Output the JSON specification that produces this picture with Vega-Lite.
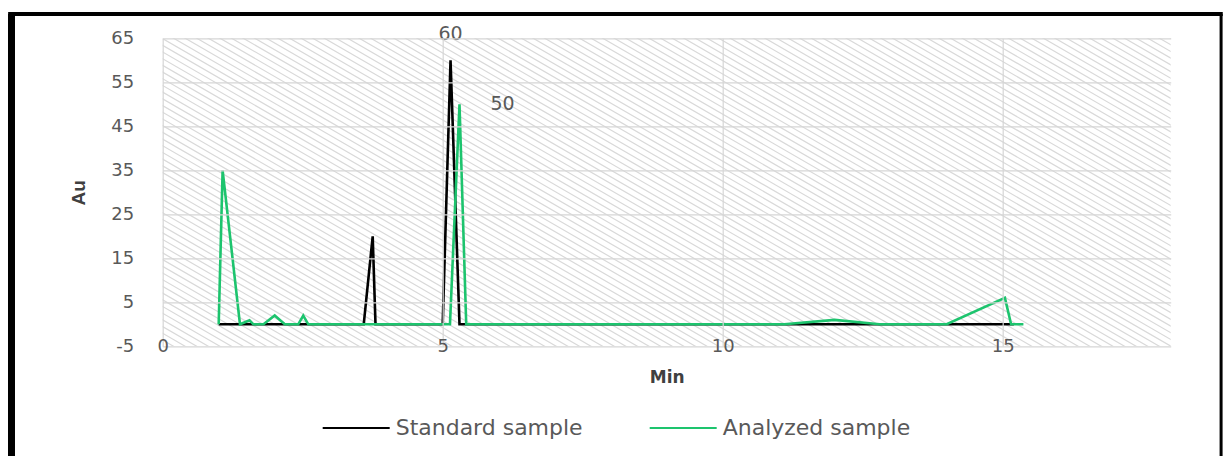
{
  "$schema": "https://vega.github.io/schema/vega-lite/v6.json",
  "width": 1008,
  "height": 308,
  "autosize": {"type": "none"},
  "padding": {"left": 162.7, "top": 38.3, "right": 54, "bottom": 110},
  "background": "white",
  "config": {"view": {"stroke": null}, "font": "DejaVu Sans"},
  "layer": [
    {
      "data": {"values": [{}]},
      "mark": {"type": "rule", "clip": true, "strokeWidth": 1200, "strokeDash": [1.2, 4.6], "color": "#d9d9d9", "strokeCap": "butt"},
      "encoding": {
        "x": {"datum": 4.98, "type": "quantitative"},
        "x2": {"datum": 13.02},
        "y": {"datum": -58.6, "type": "quantitative"},
        "y2": {"datum": 118.6}
      }
    },
    {
      "data": {"values": [
        {"Sample": "Standard sample", "Min": 1.0, "Au": 0},
        {"Sample": "Standard sample", "Min": 3.59, "Au": 0},
        {"Sample": "Standard sample", "Min": 3.75, "Au": 20},
        {"Sample": "Standard sample", "Min": 3.8, "Au": 0},
        {"Sample": "Standard sample", "Min": 5.0, "Au": 0},
        {"Sample": "Standard sample", "Min": 5.14, "Au": 60},
        {"Sample": "Standard sample", "Min": 5.3, "Au": 0},
        {"Sample": "Standard sample", "Min": 15.2, "Au": 0},
        {"Sample": "Analyzed sample", "Min": 1.0, "Au": 0},
        {"Sample": "Analyzed sample", "Min": 1.07, "Au": 35},
        {"Sample": "Analyzed sample", "Min": 1.38, "Au": 0},
        {"Sample": "Analyzed sample", "Min": 1.55, "Au": 0.9},
        {"Sample": "Analyzed sample", "Min": 1.62, "Au": 0},
        {"Sample": "Analyzed sample", "Min": 1.8, "Au": 0},
        {"Sample": "Analyzed sample", "Min": 2.0, "Au": 2},
        {"Sample": "Analyzed sample", "Min": 2.18, "Au": 0},
        {"Sample": "Analyzed sample", "Min": 2.42, "Au": 0},
        {"Sample": "Analyzed sample", "Min": 2.51, "Au": 2},
        {"Sample": "Analyzed sample", "Min": 2.6, "Au": 0},
        {"Sample": "Analyzed sample", "Min": 5.13, "Au": 0},
        {"Sample": "Analyzed sample", "Min": 5.3, "Au": 50},
        {"Sample": "Analyzed sample", "Min": 5.42, "Au": 0},
        {"Sample": "Analyzed sample", "Min": 11.1, "Au": 0},
        {"Sample": "Analyzed sample", "Min": 12.0, "Au": 1},
        {"Sample": "Analyzed sample", "Min": 12.8, "Au": 0},
        {"Sample": "Analyzed sample", "Min": 14.0, "Au": 0},
        {"Sample": "Analyzed sample", "Min": 15.04, "Au": 6},
        {"Sample": "Analyzed sample", "Min": 15.15, "Au": 0},
        {"Sample": "Analyzed sample", "Min": 15.37, "Au": 0}
      ]},
      "mark": {"type": "line", "strokeWidth": 2.6},
      "encoding": {
        "x": {
          "field": "Min", "type": "quantitative",
          "scale": {"domain": [0, 18], "nice": false, "zero": false},
          "axis": {
            "values": [0, 5, 10, 15], "title": "Min", "zindex": 1, "grid": true,
            "labelExpr": "toString(datum.value)",
            "titleFont": "DejaVu Sans", "titleFontWeight": "bold", "titleFontSize": 17, "titleColor": "#404040", "titlePadding": 14,
            "labelFont": "DejaVu Sans", "labelFontSize": 18, "labelColor": "#595959", "labelBaseline": "middle", "labelPadding": 0, "labelFlush": false,
            "ticks": false, "domain": false, "gridColor": "#d6d6d6", "gridWidth": 1.2, "gridOpacity": 1
          }
        },
        "y": {
          "field": "Au", "type": "quantitative",
          "scale": {"domain": [-5, 65], "nice": false, "zero": false},
          "axis": {
            "values": [-5, 5, 15, 25, 35, 45, 55, 65], "title": "Au", "zindex": 1, "grid": true,
            "labelExpr": "toString(datum.value)",
            "titleFont": "'Liberation Sans Narrow', 'Liberation Sans', sans-serif", "titleFontWeight": "bold", "titleFontSize": 19, "titleColor": "#404040", "titlePadding": 22,
            "labelFont": "DejaVu Sans", "labelFontSize": 18, "labelColor": "#595959", "labelPadding": 29, "labelFlush": false, "labelOverlap": false,
            "ticks": false, "domain": false, "gridColor": "#d6d6d6", "gridWidth": 1.2, "gridOpacity": 1
          }
        },
        "color": {
          "field": "Sample", "type": "nominal",
          "scale": {"domain": ["Standard sample", "Analyzed sample"], "range": ["#000000", "#1dc46e"]},
          "legend": {
            "orient": "none", "legendX": 159, "legendY": 355, "direction": "horizontal", "columns": 2,
            "title": null, "symbolType": "stroke", "symbolSize": 4489, "symbolStrokeWidth": 2,
            "labelFont": "DejaVu Sans", "labelFontSize": 22, "labelColor": "#595959", "labelLimit": 400,
            "columnPadding": 62, "labelOffset": 5, "padding": 0
          }
        }
      }
    },
    {
      "data": {"values": [{"Min": 5.14, "Au": 60, "label": "60"}]},
      "mark": {"type": "text", "dy": -26, "fontSize": 19, "color": "#595959", "font": "DejaVu Sans"},
      "encoding": {
        "x": {"field": "Min", "type": "quantitative"},
        "y": {"field": "Au", "type": "quantitative"},
        "text": {"field": "label"}
      }
    },
    {
      "data": {"values": [{"Min": 5.3, "Au": 50, "label": "50"}]},
      "mark": {"type": "text", "dx": 43, "fontSize": 19, "color": "#595959", "font": "DejaVu Sans"},
      "encoding": {
        "x": {"field": "Min", "type": "quantitative"},
        "y": {"field": "Au", "type": "quantitative"},
        "text": {"field": "label"}
      }
    },
    {
      "data": {"values": [{}]},
      "mark": {"type": "rule", "color": "#000000", "strokeWidth": 7},
      "encoding": {
        "x": {"datum": -2.7, "type": "quantitative"},
        "y": {"datum": -31, "type": "quantitative"},
        "y2": {"datum": 70.52}
      }
    },
    {
      "data": {"values": [{}]},
      "mark": {"type": "rule", "color": "#000000", "strokeWidth": 4},
      "encoding": {
        "x": {"datum": -2.76, "type": "quantitative"},
        "x2": {"datum": 18.93},
        "y": {"datum": 70.52, "type": "quantitative"}
      }
    },
    {
      "data": {"values": [{}]},
      "mark": {"type": "rule", "color": "#000000", "strokeWidth": 3},
      "encoding": {
        "x": {"datum": 18.9, "type": "quantitative"},
        "y": {"datum": -31, "type": "quantitative"},
        "y2": {"datum": 70.52}
      }
    }
  ]
}
